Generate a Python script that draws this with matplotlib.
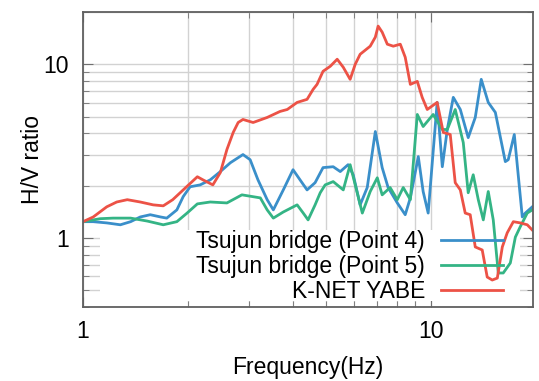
import numpy as np
import matplotlib
matplotlib.use("Agg")
import matplotlib.pyplot as plt
from matplotlib.patches import Rectangle
from matplotlib.ticker import FixedLocator, LogLocator, NullFormatter, FuncFormatter

plt.rcParams['font.family'] = ['Liberation Sans', 'DejaVu Sans']
plt.rcParams['font.size'] = 16.5

# H/V spectral ratios, Tsujun bridge (Point 4)
freq_p4 = [1.00, 1.07, 1.17, 1.28, 1.37, 1.46, 1.56, 1.67, 1.74, 1.86, 1.94, 2.03, 2.17,
           2.32, 2.48, 2.65, 2.88, 3.02, 3.18, 3.38, 3.52, 3.76, 4.01, 4.20, 4.40, 4.64,
           4.89, 5.23, 5.48, 5.77, 5.97, 6.25, 6.55, 6.91, 7.23, 7.52, 7.99, 8.42, 8.71,
           9.18, 9.48, 9.80, 10.40, 10.76, 11.12, 11.57, 12.12, 12.77, 13.38, 13.92,
           14.58, 15.28, 16.32, 16.64, 17.32, 18.26, 18.63, 19.51]
hv_p4 = [1.24, 1.24, 1.22, 1.19, 1.24, 1.32, 1.36, 1.32, 1.30, 1.45, 1.73, 1.97, 2.02,
         2.16, 2.41, 2.71, 3.02, 2.82, 2.16, 1.66, 1.45, 1.89, 2.47, 2.16, 1.89, 2.08,
         2.54, 2.57, 2.41, 2.64, 2.31, 1.55, 1.95, 4.10, 2.54, 1.95, 1.59, 1.36, 1.70,
         2.94, 1.85, 1.39, 6.03, 2.57, 4.21, 6.45, 5.49, 3.78, 4.94, 8.19,
         6.03, 5.28, 2.75, 2.82, 3.94, 1.32, 1.39, 1.51]

# Tsujun bridge (Point 5)
freq_p5 = [1.00, 1.12, 1.22, 1.37, 1.53, 1.70, 1.86, 1.99, 2.13, 2.32, 2.59, 2.86, 3.23,
           3.38, 3.52, 3.76, 4.12, 4.29, 4.43, 4.64, 4.80, 4.96, 5.23, 5.59, 5.85, 6.05,
           6.34, 6.68, 7.00, 7.23, 7.62, 7.99, 8.31, 8.71, 9.12, 9.48, 10.13, 10.76,
           11.12, 11.72, 12.36, 12.77, 13.20, 13.65, 14.11, 14.58, 15.07, 15.58, 16.10,
           16.87, 17.44, 18.02, 18.87, 19.51]
hv_p5 = [1.24, 1.29, 1.30, 1.30, 1.25, 1.19, 1.24, 1.39, 1.57, 1.61, 1.59, 1.77, 1.70,
         1.45, 1.30, 1.41, 1.55, 1.39, 1.27, 1.55, 1.82, 2.02, 2.11, 1.89, 2.64, 2.02,
         1.39, 1.85, 2.22, 1.77, 1.95, 1.66, 1.95, 1.66, 5.14, 4.38, 5.14, 4.21,
         4.21, 5.49, 3.54, 1.82, 2.31, 1.66, 1.27, 1.85, 1.27, 0.628, 0.628,
         0.717, 1.01, 1.16, 1.39, 1.45]

# K-NET YABE station
freq_yabe = [1.00, 1.07, 1.17, 1.25, 1.34, 1.46, 1.59, 1.70, 1.81, 1.94, 2.13, 2.21, 2.36,
             2.48, 2.59, 2.70, 2.79, 2.88, 3.08, 3.38, 3.68, 3.86, 4.12, 4.40, 4.58, 4.70,
             4.89, 5.13, 5.37, 5.59, 5.85, 6.05, 6.25, 6.68, 6.91, 7.04, 7.23, 7.48, 7.78,
             8.15, 8.42, 8.71, 9.12, 9.42, 9.74, 10.40, 10.83, 11.34, 11.72, 12.12, 12.52,
             12.94, 13.38, 14.01, 14.48, 14.97, 15.48, 16.00, 16.53, 17.21, 18.02,
             18.87, 19.51]
hv_yabe = [1.24, 1.32, 1.51, 1.61, 1.66, 1.61, 1.55, 1.53, 1.66, 1.89, 2.25, 2.16, 2.02,
           2.38, 3.23, 4.05, 4.62, 4.81, 4.62, 4.94, 5.35, 5.49, 6.03, 6.28, 7.17, 7.66,
           9.11, 9.74, 10.69, 9.61, 8.19, 10.0, 11.42, 12.71, 14.33, 16.59, 15.31, 13.05,
           12.71, 13.05, 10.98, 7.66, 7.97, 6.45, 5.49, 6.03, 4.05, 3.94, 2.08, 1.89, 1.39,
           1.36, 0.887, 0.852, 0.595, 0.572, 0.587, 0.887, 1.07, 1.24, 1.22,
           1.19, 1.11]

labels = ['Tsujun bridge (Point 4)', 'Tsujun bridge (Point 5)', 'K-NET YABE']
colors = ['#3a8fca', '#34b485', '#ec5246']

W, H = 539, 381
fig = plt.figure(figsize=(W / 100, H / 100), dpi=100)
ax = fig.add_axes([83 / W, 1 - 307 / H, 450 / W, 295 / H])

ax.set_xscale('log')
ax.set_yscale('log')
ax.set_xlim(1, 19.6)
ax.set_ylim(0.4, 20)

ax.xaxis.set_major_locator(FixedLocator([1, 10]))
ax.yaxis.set_major_locator(FixedLocator([1, 10]))
ax.xaxis.set_minor_locator(LogLocator(subs=np.arange(2, 10)))
ax.yaxis.set_minor_locator(LogLocator(subs=np.arange(2, 10)))
ax.xaxis.set_minor_formatter(NullFormatter())
ax.yaxis.set_minor_formatter(NullFormatter())
fmt = FuncFormatter(lambda v, pos: f"{v:g}")
ax.xaxis.set_major_formatter(fmt)
ax.yaxis.set_major_formatter(fmt)

ax.set_axisbelow(True)
ax.grid(which='both', color='#d2d2d2', lw=1.0)
ax.tick_params(which='both', direction='in', top=True, right=True, color='#707070')
ax.tick_params(which='major', length=7)
ax.tick_params(which='minor', length=4)
ax.tick_params(axis='x', which='major', pad=9)
ax.tick_params(axis='y', which='major', pad=10)
for s in ax.spines.values():
    s.set_color('#606060')
    s.set_linewidth(1.3)

# white key background hides the grid but not the curves
ax.add_patch(Rectangle((0.038, 0.02), 0.933, 0.241, transform=ax.transAxes,
                       facecolor='white', edgecolor='none', zorder=1))

series = [(freq_p4, hv_p4), (freq_p5, hv_p5), (freq_yabe, hv_yabe)]
for (f, v), lab, c in zip(series, labels, colors):
    ax.plot(f, v, color=c, lw=2.0, label=lab, zorder=2)

ax.legend(loc='upper right', bbox_to_anchor=((503 - 83) / 450, (307 - 230) / 295),
          frameon=False, markerfirst=False, borderpad=0, borderaxespad=0,
          handlelength=2.7, handletextpad=0.7, labelspacing=0.08, fontsize=16.5)

ax.set_xlabel('Frequency(Hz)', labelpad=10)
ax.set_ylabel('H/V ratio', labelpad=0)

fig.savefig('out.png', dpi=100)
